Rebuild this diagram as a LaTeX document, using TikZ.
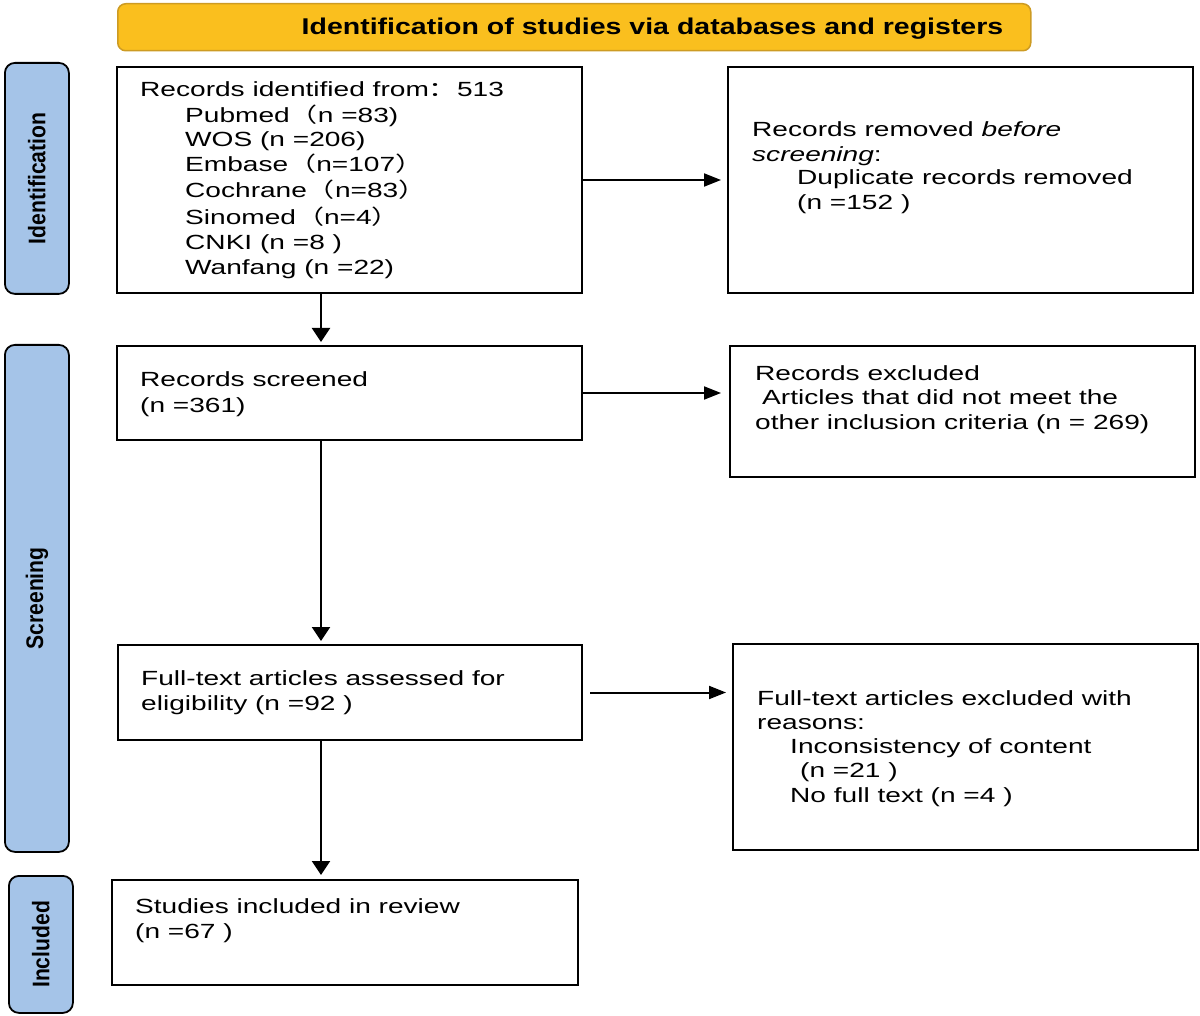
\documentclass[tikz,border=0pt]{standalone}
\usepackage{fontspec}
\setmainfont{Liberation Sans}
\newfontfamily\bodyfont[FakeStretch=1.37]{Liberation Sans}
\newfontfamily\cjkfont[FakeStretch=1.37]{Noto Sans CJK SC}
\newfontfamily\hdrfont[FakeStretch=1.25]{Liberation Sans}
\newfontfamily\sidefont[FakeStretch=0.88]{Liberation Sans}
\usetikzlibrary{arrows.meta}
\definecolor{hdrfill}{RGB}{250,191,30}
\definecolor{hdrdraw}{RGB}{205,155,35}
\definecolor{sidefill}{RGB}{165,196,232}
\newcommand{\fw}[1]{{\cjkfont #1}}
\begin{document}
\begin{tikzpicture}[x=1pt,y=-1pt,
  box/.style={draw, line width=2pt, anchor=north west, inner sep=0pt},
  txt/.style={anchor=base west, inner sep=0pt, font=\bodyfont\fontsize{20.5}{25}\selectfont},
  sidebox/.style={draw, line width=1.8pt, fill=sidefill, rounded corners=10pt, anchor=north west, inner sep=0pt},
  sidetxt/.style={rotate=90, inner sep=0pt, font=\sidefont\bfseries\fontsize{24}{26}\selectfont},
  harr/.style={line width=2pt, -{Triangle[length=17pt,width=13pt]}},
  varr/.style={line width=2.4pt, -{Triangle[length=14pt,width=18pt]}}
]
\useasboundingbox (0,0) rectangle (1200,1016);

% header
\node[draw=hdrdraw, line width=1.5pt, fill=hdrfill, rounded corners=8pt, anchor=north west,
      minimum width=913pt, minimum height=47pt, inner sep=0pt] (hdr) at (117,3) {};
\node[inner sep=0pt, font=\hdrfont\bfseries\fontsize{22.8}{24}\selectfont] (hdrtxt) at (652.5,29)
  {Identification of studies via databases and registers};

% side labels
\node[sidebox, minimum width=64pt, minimum height=231pt] (sident) at (4,62) {};
\node[sidetxt] (sidentt) at (sident.center) {Identification};
\node[sidebox, minimum width=64pt, minimum height=507pt] (sscreen) at (4,344) {};
\node[sidetxt] (sscreent) at (sscreen.center) {Screening};
\node[sidebox, minimum width=64pt, minimum height=137pt] (sincl) at (8,875) {};
\node[sidetxt] (sinclt) at (sincl.center) {Included};

% boxes
\node[box, minimum width=465pt, minimum height=226pt] (ident) at (116,66) {};
\node[box, minimum width=465pt, minimum height=226pt] (removed) at (727,66) {};
\node[box, minimum width=465pt, minimum height=94pt] (screened) at (116,345) {};
\node[box, minimum width=465pt, minimum height=131pt] (excluded) at (729,345) {};
\node[box, minimum width=464pt, minimum height=95pt] (fulltext) at (117,644) {};
\node[box, minimum width=465pt, minimum height=206pt] (ftexcl) at (732,643) {};
\node[box, minimum width=466pt, minimum height=105pt] (included) at (111,879) {};

% texts: identification
\node[txt] (i1) at (140,97) {Records identified from\fw{：}513};
\node[txt] (i2) at (185,123) {Pubmed\fw{（}n =83)};
\node[txt] (i3) at (185,147) {WOS (n =206)};
\node[txt] (i4) at (185,172) {Embase\fw{（}n=107\fw{）}};
\node[txt] (i5) at (185,198) {Cochrane\fw{（}n=83\fw{）}};
\node[txt] (i6) at (185,225) {Sinomed\fw{（}n=4\fw{）}};
\node[txt] (i7) at (185,250) {CNKI (n =8 )};
\node[txt] (i8) at (185,275) {Wanfang (n =22)};

\node[txt] (r1) at (752,137) {Records removed \textit{before}};
\node[txt] (r2) at (752,162) {\textit{screening}:};
\node[txt] (r3) at (797,185) {Duplicate records removed};
\node[txt] (r4) at (797,210) {(n =152 )};

\node[txt] (s1) at (140,387) {Records screened};
\node[txt] (s2) at (140,412) {(n =361)};

\node[txt] (e1) at (755,381) {Records excluded};
\node[txt] (e2) at (762,405) {Articles that did not meet the};
\node[txt] (e3) at (755,429) {other inclusion criteria (n = 269)};

\node[txt] (f1) at (141,685) {Full-text articles assessed for};
\node[txt] (f2) at (141,710) {eligibility (n =92 )};

\node[txt] (x1) at (757,705) {Full-text articles excluded with};
\node[txt] (x2) at (757,729) {reasons:};
\node[txt] (x3) at (790,753) {Inconsistency of content};
\node[txt] (x4) at (800,777) {(n =21 )};
\node[txt] (x5) at (790,802) {No full text (n =4 )};

\node[txt] (n1) at (135,913) {Studies included in review};
\node[txt] (n2) at (135,938) {(n =67 )};

% arrows
\coordinate (spine) at (321,0);
\draw[harr, shorten >=6pt] (ident.east) -- (removed.west);
\draw[harr, shorten >=8pt] (screened.east) -- (screened.east -| excluded.west);
\draw[harr, shorten <=7pt, shorten >=6pt] (fulltext.east) -- (fulltext.east -| ftexcl.west);
\draw[varr, shorten >=3pt] (ident.south -| spine) -- (screened.north -| spine);
\draw[varr, shorten >=3pt] (screened.south -| spine) -- (fulltext.north -| spine);
\draw[varr, shorten >=4pt] (fulltext.south -| spine) -- (included.north -| spine);
\end{tikzpicture}
\end{document}
